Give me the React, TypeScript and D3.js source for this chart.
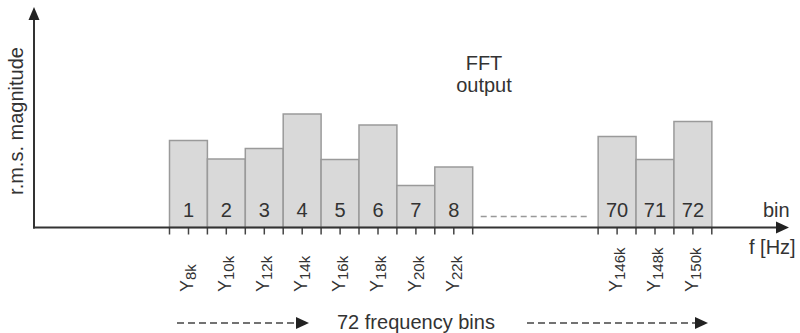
import React from "react";
import * as d3 from "d3";

const binLabels = ["1", "2", "3", "4", "5", "6", "7", "8", "70", "71", "72"];
const magnitudes = [8.7, 6.85, 7.9, 11.35, 6.8, 10.25, 4.2, 6.05, 9.1, 6.8, 10.6];
const freqSubs = ["8k", "10k", "12k", "14k", "16k", "18k", "20k", "22k", "146k", "148k", "150k"];

const W = 800;
const H = 333;
const FONT = "'Liberation Sans', Arial, Helvetica, sans-serif";
const TXT = "#333";
const GAP_SLOTS = 3.31;

export default function App() {
  const baseY = 227.5;
  const slot = (i: number) => (i < 8 ? i : i + GAP_SLOTS);
  const x = d3.scaleLinear().domain([0, 11 + GAP_SLOTS]).range([169.5, 169.5 + (11 + GAP_SLOTS) * 37.9]);
  const y = d3.scaleLinear().domain([0, 10]).range([baseY, baseY - 100]);
  const bw = x(1) - x(0);

  const ticks: number[] = [];
  binLabels.forEach((_, i) => {
    const s = slot(i);
    ticks.push(x(s), x(s + 0.5), x(s + 1));
  });
  const uniqTicks = Array.from(new Set(ticks.map((t) => Math.round(t * 10) / 10)));

  return (
    <svg width={W} height={H} style={{ position: "absolute", left: 0, top: 0 }} fontFamily={FONT}>
      <rect width={W} height={H} fill="#fff" />
      {/* bars */}
      {magnitudes.map((v, i) => (
        <rect
          key={"b" + i}
          x={x(slot(i))}
          y={y(v)}
          width={bw}
          height={baseY - y(v)}
          fill="#d9d9d9"
          stroke="#9a9a9a"
          strokeWidth={1.5}
        />
      ))}
      {binLabels.map((l, i) => (
        <text key={"l" + i} x={x(slot(i) + 0.5)} y={217} textAnchor="middle" fontSize={20} fill={TXT}>
          {l}
        </text>
      ))}
      {/* dashed gap line */}
      <line x1={x(8) + 8} x2={x(8 + GAP_SLOTS) - 8} y1={216.5} y2={216.5} stroke="#999" strokeWidth={1.5} strokeDasharray="6 4" />
      {/* ticks */}
      {uniqTicks.map((t, i) => (
        <line key={"t" + i} x1={t} x2={t} y1={baseY} y2={baseY + 7} stroke="#444" strokeWidth={1.5} />
      ))}
      {/* axes */}
      <line x1={34} x2={34} y1={baseY + 1} y2={18} stroke="#333" strokeWidth={2} />
      <path d="M28.5,20 L39.5,20 L34,7 Z" fill="#222" />
      <line x1={33} x2={778} y1={baseY} y2={baseY} stroke="#333" strokeWidth={2} />
      <path d="M776,221.5 L776,233.5 L789,227.5 Z" fill="#222" />
      {/* axis labels */}
      <text transform="translate(23,121) rotate(-90)" textAnchor="middle" fontSize={20} fill={TXT}>
        r.m.s. magnitude
      </text>
      <text x={763} y={217} fontSize={20} fill={TXT}>bin</text>
      <text x={749} y={254} fontSize={20} fill={TXT}>f [Hz]</text>
      <text x={484} y={70} textAnchor="middle" fontSize={20} fill={TXT}>FFT</text>
      <text x={484} y={92} textAnchor="middle" fontSize={20} fill={TXT}>output</text>
      {/* frequency labels */}
      {freqSubs.map((f, i) => (
        <text key={"f" + i} transform={`translate(${x(slot(i) + 0.5) + 5},292) rotate(-90)`} fontSize={18} fill={TXT}>
          Y<tspan fontSize={15} dy={3}>{f}</tspan>
        </text>
      ))}
      {/* bottom arrows */}
      <line x1={177} x2={297} y1={323} y2={323} stroke="#444" strokeWidth={1.5} strokeDasharray="7 4" />
      <path d="M296,317 L296,329 L309,323 Z" fill="#222" />
      <text x={337} y={329} fontSize={20} fill={TXT}>72 frequency bins</text>
      <line x1={527} x2={696} y1={323} y2={323} stroke="#444" strokeWidth={1.5} strokeDasharray="7 4" />
      <path d="M695,317 L695,329 L708,323 Z" fill="#222" />
    </svg>
  );
}
